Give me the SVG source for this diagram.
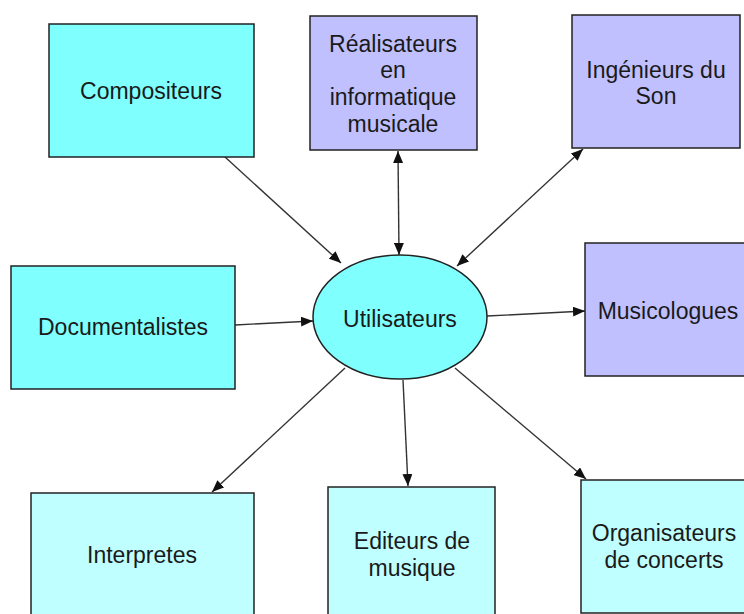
<svg xmlns="http://www.w3.org/2000/svg" width="744" height="614" viewBox="0 0 744 614">
<defs>
<marker id="arr" viewBox="0 0 12 10" refX="12" refY="5" markerWidth="12" markerHeight="10" markerUnits="userSpaceOnUse" orient="auto-start-reverse">
<path d="M0,0 L12,5 L0,10 z" fill="#111"/>
</marker>
<style>
.n { stroke: #222; stroke-width: 1.5; }
.c1 { fill: #80FFFF; }
.c2 { fill: #C0FFFF; }
.p { fill: #C0C0FF; }
text { font-family: "Liberation Sans", Arial, sans-serif; font-size: 23px; fill: #1a1a1a; text-anchor: middle; dominant-baseline: central; }
.e { stroke: #333; stroke-width: 1.4; fill: none; marker-end: url(#arr); }
.b { marker-start: url(#arr); }
</style>
</defs>
<rect width="744" height="614" fill="#fff"/>
<g id="connectors">
<line class="e" x1="225" y1="157" x2="341" y2="263"/>
<line class="e b" x1="398" y1="151" x2="399" y2="255"/>
<line class="e b" x1="583" y1="149" x2="457" y2="266"/>
<line class="e" x1="235" y1="325" x2="313" y2="321"/>
<line class="e" x1="487" y1="316" x2="585" y2="311"/>
<line class="e" x1="345" y1="368" x2="212" y2="492"/>
<line class="e" x1="403" y1="380" x2="408" y2="486"/>
<line class="e" x1="455" y1="368" x2="586" y2="479"/>
</g>
<g id="compositeurs">
<rect class="n c1" x="49" y="24" width="205" height="133"/>
<text x="151" y="91">Compositeurs</text>
</g>
<g id="realisateurs">
<rect class="n p" x="310" y="16" width="167" height="134"/>
<text x="393" y="44">Réalisateurs</text>
<text x="393" y="70">en</text>
<text x="393" y="97">informatique</text>
<text x="393" y="124">musicale</text>
</g>
<g id="ingenieurs">
<rect class="n p" x="572" y="15" width="168" height="133"/>
<text x="656" y="70">Ingénieurs du</text>
<text x="656" y="96">Son</text>
</g>
<g id="documentalistes">
<rect class="n c1" x="11" y="266" width="224" height="123"/>
<text x="123" y="327">Documentalistes</text>
</g>
<g id="utilisateurs">
<ellipse class="n c1" cx="400" cy="317" rx="87" ry="62"/>
<text x="400" y="319">Utilisateurs</text>
</g>
<g id="musicologues">
<rect class="n p" x="585" y="243" width="170" height="133"/>
<text x="668" y="311">Musicologues</text>
</g>
<g id="interpretes">
<rect class="n c2" x="31" y="493" width="223" height="130"/>
<text x="142" y="555">Interpretes</text>
</g>
<g id="editeurs">
<rect class="n c2" x="328" y="487" width="167" height="135"/>
<text x="412" y="541">Editeurs de</text>
<text x="412" y="568">musique</text>
</g>
<g id="organisateurs">
<rect class="n c2" x="581" y="480" width="170" height="133"/>
<text x="664" y="533">Organisateurs</text>
<text x="664" y="560">de concerts</text>
</g>
</svg>
